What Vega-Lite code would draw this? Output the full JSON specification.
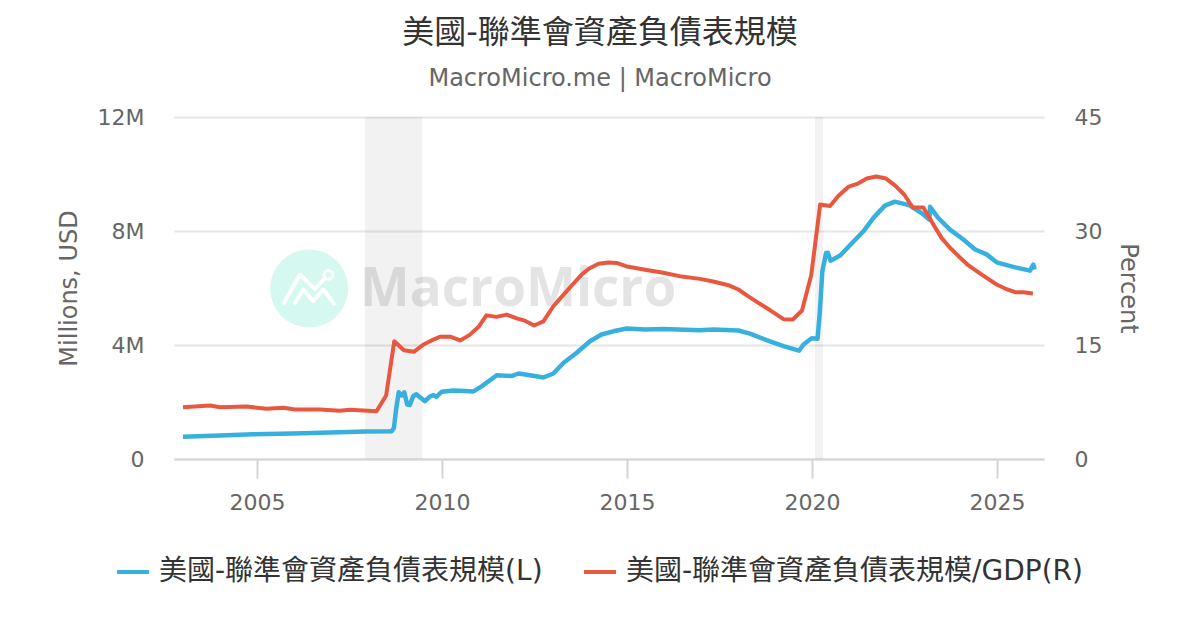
{
  "$schema": "https://vega.github.io/schema/vega-lite/v6.json",
  "description": "US Fed balance sheet, level and share of GDP",
  "autosize": "none",
  "width": 870,
  "height": 342,
  "padding": {"left": 174, "top": 117, "right": 156, "bottom": 171},
  "background": "white",
  "title": {
    "text": "美國-聯準會資產負債表規模",
    "subtitle": "MacroMicro.me | MacroMicro",
    "anchor": "middle",
    "dx": -9,
    "offset": 14,
    "font": "DejaVu Sans, Noto Sans CJK TC",
    "fontSize": 32,
    "fontWeight": "normal",
    "color": "#333333",
    "subtitleFont": "DejaVu Sans, Noto Sans CJK TC",
    "subtitleFontSize": 24,
    "subtitleColor": "#666666",
    "subtitlePadding": 17
  },
  "config": {
    "view": {"stroke": null},
    "font": "DejaVu Sans, Noto Sans CJK TC"
  },
  "datasets": {
    "recessions": [
      {"start": 2007.92, "end": 2009.47},
      {"start": 2020.08, "end": 2020.3}
    ],
    "logoMark": [
      {"part": "a", "year": 2005.73, "v": 5.48},
      {"part": "a", "year": 2006.16, "v": 6.47},
      {"part": "a", "year": 2006.57, "v": 5.97},
      {"part": "a", "year": 2006.91, "v": 6.44},
      {"part": "b", "year": 2006.03, "v": 5.48},
      {"part": "b", "year": 2006.25, "v": 5.95},
      {"part": "b", "year": 2006.52, "v": 5.54},
      {"part": "b", "year": 2006.79, "v": 5.95},
      {"part": "b", "year": 2007.08, "v": 5.46}
    ],
    "balance": [
      {"year": 2003.0, "v": 0.78}, {"year": 2004.0, "v": 0.825}, {"year": 2004.9, "v": 0.87},
      {"year": 2005.98, "v": 0.895}, {"year": 2006.97, "v": 0.93}, {"year": 2007.96, "v": 0.965},
      {"year": 2008.64, "v": 0.975}, {"year": 2008.7, "v": 1.09}, {"year": 2008.76, "v": 1.74},
      {"year": 2008.83, "v": 2.34}, {"year": 2008.91, "v": 2.23}, {"year": 2008.98, "v": 2.34},
      {"year": 2009.06, "v": 1.91}, {"year": 2009.13, "v": 1.89}, {"year": 2009.22, "v": 2.2},
      {"year": 2009.31, "v": 2.27}, {"year": 2009.41, "v": 2.16}, {"year": 2009.54, "v": 2.03},
      {"year": 2009.68, "v": 2.2}, {"year": 2009.77, "v": 2.24}, {"year": 2009.85, "v": 2.18},
      {"year": 2009.99, "v": 2.36}, {"year": 2010.3, "v": 2.4},
      {"year": 2010.62, "v": 2.39}, {"year": 2010.85, "v": 2.37}, {"year": 2011.07, "v": 2.55},
      {"year": 2011.48, "v": 2.94}, {"year": 2011.88, "v": 2.91}, {"year": 2012.07, "v": 3.0},
      {"year": 2012.38, "v": 2.94}, {"year": 2012.74, "v": 2.86}, {"year": 2013.01, "v": 3.0},
      {"year": 2013.28, "v": 3.37}, {"year": 2013.64, "v": 3.73}, {"year": 2014.0, "v": 4.13},
      {"year": 2014.31, "v": 4.37}, {"year": 2014.63, "v": 4.48}, {"year": 2014.99, "v": 4.58},
      {"year": 2015.49, "v": 4.54}, {"year": 2015.98, "v": 4.56}, {"year": 2016.97, "v": 4.52},
      {"year": 2017.33, "v": 4.54}, {"year": 2018.01, "v": 4.51}, {"year": 2018.32, "v": 4.4},
      {"year": 2018.77, "v": 4.17}, {"year": 2019.23, "v": 3.96}, {"year": 2019.65, "v": 3.8},
      {"year": 2019.77, "v": 4.02}, {"year": 2019.99, "v": 4.24}, {"year": 2020.15, "v": 4.22},
      {"year": 2020.21, "v": 5.14}, {"year": 2020.28, "v": 6.59}, {"year": 2020.38, "v": 7.23},
      {"year": 2020.43, "v": 7.24}, {"year": 2020.5, "v": 6.96}, {"year": 2020.76, "v": 7.14},
      {"year": 2021.07, "v": 7.56}, {"year": 2021.39, "v": 7.99}, {"year": 2021.66, "v": 8.46},
      {"year": 2021.97, "v": 8.89}, {"year": 2022.24, "v": 9.03}, {"year": 2022.64, "v": 8.9},
      {"year": 2023.01, "v": 8.58}, {"year": 2023.17, "v": 8.4}, {"year": 2023.19, "v": 8.85},
      {"year": 2023.41, "v": 8.46}, {"year": 2023.73, "v": 8.05}, {"year": 2024.09, "v": 7.7},
      {"year": 2024.41, "v": 7.35}, {"year": 2024.72, "v": 7.18}, {"year": 2024.99, "v": 6.9},
      {"year": 2025.44, "v": 6.74}, {"year": 2025.89, "v": 6.61}, {"year": 2025.98, "v": 6.82},
      {"year": 2026.02, "v": 6.65}
    ],
    "gdpShare": [
      {"year": 2003.0, "v": 6.8}, {"year": 2003.73, "v": 7.04}, {"year": 2004.0, "v": 6.8},
      {"year": 2004.72, "v": 6.9}, {"year": 2005.26, "v": 6.6}, {"year": 2005.71, "v": 6.73},
      {"year": 2006.03, "v": 6.51}, {"year": 2006.7, "v": 6.51}, {"year": 2007.24, "v": 6.34},
      {"year": 2007.51, "v": 6.47}, {"year": 2008.23, "v": 6.29}, {"year": 2008.49, "v": 8.36},
      {"year": 2008.71, "v": 15.5}, {"year": 2008.97, "v": 14.3}, {"year": 2009.24, "v": 14.1},
      {"year": 2009.5, "v": 15.07}, {"year": 2009.72, "v": 15.6}, {"year": 2009.96, "v": 16.1},
      {"year": 2010.22, "v": 16.1}, {"year": 2010.49, "v": 15.6}, {"year": 2010.74, "v": 16.3},
      {"year": 2010.99, "v": 17.4}, {"year": 2011.2, "v": 18.9}, {"year": 2011.47, "v": 18.7},
      {"year": 2011.75, "v": 19.0}, {"year": 2012.02, "v": 18.5}, {"year": 2012.24, "v": 18.2},
      {"year": 2012.49, "v": 17.57}, {"year": 2012.74, "v": 18.1}, {"year": 2013.01, "v": 20.1},
      {"year": 2013.28, "v": 21.6}, {"year": 2013.5, "v": 22.8}, {"year": 2013.78, "v": 24.3},
      {"year": 2013.98, "v": 25.07}, {"year": 2014.23, "v": 25.7}, {"year": 2014.5, "v": 25.86},
      {"year": 2014.72, "v": 25.8}, {"year": 2014.97, "v": 25.37}, {"year": 2015.49, "v": 24.9},
      {"year": 2015.98, "v": 24.5}, {"year": 2016.48, "v": 24.0}, {"year": 2016.97, "v": 23.7},
      {"year": 2017.33, "v": 23.36}, {"year": 2017.74, "v": 22.87}, {"year": 2018.01, "v": 22.3},
      {"year": 2018.28, "v": 21.4}, {"year": 2018.55, "v": 20.55}, {"year": 2018.86, "v": 19.6},
      {"year": 2019.23, "v": 18.4}, {"year": 2019.48, "v": 18.36}, {"year": 2019.73, "v": 19.54},
      {"year": 2019.98, "v": 24.2}, {"year": 2020.22, "v": 33.5}, {"year": 2020.49, "v": 33.3},
      {"year": 2020.71, "v": 34.6}, {"year": 2020.98, "v": 35.8}, {"year": 2021.22, "v": 36.2},
      {"year": 2021.48, "v": 36.9}, {"year": 2021.74, "v": 37.17}, {"year": 2022.0, "v": 36.9},
      {"year": 2022.24, "v": 36.0}, {"year": 2022.49, "v": 34.8}, {"year": 2022.72, "v": 33.1},
      {"year": 2023.01, "v": 33.1}, {"year": 2023.28, "v": 30.85}, {"year": 2023.5, "v": 29.1},
      {"year": 2023.73, "v": 27.8}, {"year": 2023.98, "v": 26.6}, {"year": 2024.22, "v": 25.5},
      {"year": 2024.49, "v": 24.6}, {"year": 2024.72, "v": 23.84}, {"year": 2024.99, "v": 22.96},
      {"year": 2025.22, "v": 22.43}, {"year": 2025.49, "v": 21.95}, {"year": 2025.71, "v": 21.95},
      {"year": 2025.97, "v": 21.78}
    ]
  },
  "resolve": {"scale": {"y": "independent"}, "axis": {"y": "independent"}},
  "layer": [
    {
      "data": {"name": "recessions"},
      "mark": {"type": "rect", "color": "#000000", "opacity": 0.05},
      "encoding": {
        "x": {
          "field": "start",
          "type": "quantitative",
          "scale": {"domain": [2002.757, 2026.27], "nice": false, "zero": false},
          "title": null,
          "axis": {
            "values": [2005, 2010, 2015, 2020, 2025],
            "format": "d",
            "grid": false,
            "domainColor": "#d5d5d5",
            "domainWidth": 2,
            "tickColor": "#d5d5d5",
            "tickWidth": 2,
            "tickSize": 19,
            "labelFontSize": 22,
            "labelColor": "#666666",
            "labelPadding": 14,
            "labelFont": "DejaVu Sans",
            "labelOverlap": false
          }
        },
        "x2": {"field": "end"}
      }
    },
    {
      "data": {"values": [{"year": 2006.41, "v": 5.98}]},
      "mark": {"type": "point", "shape": "circle", "filled": true, "color": "#d5f8f0", "opacity": 1, "size": 6084},
      "encoding": {
        "x": {"field": "year", "type": "quantitative"},
        "y": {"field": "v", "type": "quantitative", "scale": {"domain": [0, 12]}, "axis": null}
      }
    },
    {
      "data": {"name": "logoMark"},
      "mark": {"type": "line", "color": "white", "strokeWidth": 4, "strokeCap": "round", "strokeJoin": "round"},
      "encoding": {
        "x": {"field": "year", "type": "quantitative"},
        "y": {"field": "v", "type": "quantitative", "scale": {"domain": [0, 12]}, "axis": null},
        "detail": {"field": "part"}
      }
    },
    {
      "data": {"values": [{"year": 2006.93, "v": 6.46}]},
      "mark": {"type": "point", "shape": "circle", "filled": true, "fill": "#d5f8f0", "stroke": "white", "strokeWidth": 3, "opacity": 1, "size": 80},
      "encoding": {
        "x": {"field": "year", "type": "quantitative"},
        "y": {"field": "v", "type": "quantitative", "scale": {"domain": [0, 12]}, "axis": null}
      }
    },
    {
      "data": {"values": [{"year": 2007.78, "v": 5.92, "label": "MacroMicro"}]},
      "mark": {"type": "text", "align": "left", "baseline": "middle", "font": "Open Sans", "fontWeight": 700, "fontSize": 53, "color": "#000000", "opacity": 0.1},
      "encoding": {
        "x": {"field": "year", "type": "quantitative"},
        "y": {"field": "v", "type": "quantitative", "scale": {"domain": [0, 12]}, "axis": null},
        "text": {"field": "label"}
      }
    },
    {
      "data": {"name": "balance"},
      "transform": [{"calculate": "'美國-聯準會資產負債表規模(L)'", "as": "series"}],
      "mark": {"type": "line", "strokeWidth": 4.5, "strokeJoin": "round"},
      "encoding": {
        "x": {"field": "year", "type": "quantitative"},
        "y": {
          "field": "v",
          "type": "quantitative",
          "scale": {"domain": [0, 12], "nice": false},
          "title": "Millions, USD",
          "axis": {
            "values": [0, 4, 8, 12],
            "labelExpr": "datum.value === 0 ? '0' : datum.value + 'M'",
            "domain": false,
            "ticks": false,
            "grid": true,
            "gridColor": "#e6e6e6",
            "gridWidth": 2,
            "labelFontSize": 22,
            "labelColor": "#666666",
            "labelFont": "DejaVu Sans",
            "labelPadding": 30,
            "titleFont": "DejaVu Sans",
            "titleFontSize": 24,
            "titleFontWeight": "normal",
            "titleColor": "#666666",
            "titlePadding": 16
          }
        },
        "color": {
          "field": "series",
          "type": "nominal",
          "scale": {
            "domain": ["美國-聯準會資產負債表規模(L)", "美國-聯準會資產負債表規模/GDP(R)"],
            "range": ["#38b0de", "#e9573f"]
          },
          "legend": {
            "orient": "none",
            "legendX": -59,
            "legendY": 437,
            "direction": "horizontal",
            "columns": 2,
            "title": null,
            "symbolType": "stroke",
            "symbolSize": 1024,
            "symbolStrokeWidth": 4,
            "labelFont": "DejaVu Sans, Noto Sans CJK TC",
            "labelFontSize": 28,
            "labelColor": "#333333",
            "labelLimit": 600,
            "labelOffset": 8,
            "columnPadding": 33
          }
        }
      }
    },
    {
      "data": {"name": "gdpShare"},
      "transform": [{"calculate": "'美國-聯準會資產負債表規模/GDP(R)'", "as": "series"}],
      "mark": {"type": "line", "strokeWidth": 4, "strokeJoin": "round"},
      "encoding": {
        "x": {"field": "year", "type": "quantitative"},
        "y": {
          "field": "v",
          "type": "quantitative",
          "scale": {"domain": [0, 45], "nice": false},
          "title": "Percent",
          "axis": {
            "orient": "right",
            "values": [0, 15, 30, 45],
            "format": "d",
            "domain": false,
            "ticks": false,
            "grid": false,
            "labelFontSize": 22,
            "labelColor": "#666666",
            "labelFont": "DejaVu Sans",
            "labelPadding": 30,
            "titleFont": "DejaVu Sans",
            "titleFontSize": 24,
            "titleFontWeight": "normal",
            "titleColor": "#666666",
            "titleAngle": 90,
            "titlePadding": 14
          }
        },
        "color": {"field": "series", "type": "nominal"}
      }
    }
  ]
}
